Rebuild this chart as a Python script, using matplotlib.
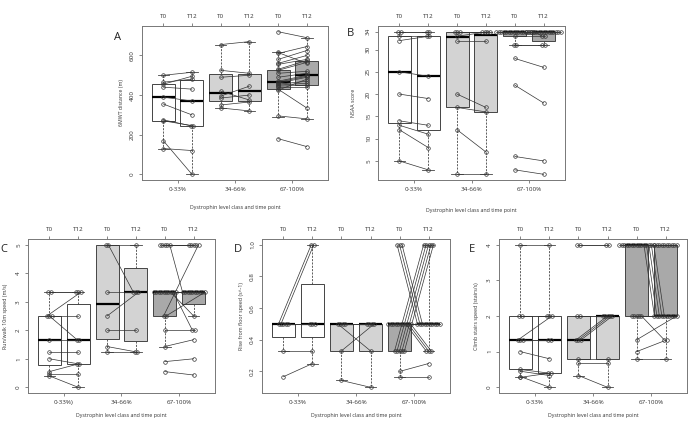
import numpy as np
import matplotlib
matplotlib.use("Agg")
import matplotlib.pyplot as plt

plt.rcParams['font.family'] = ['Open Sans', 'DejaVu Sans']

groups = ["0-33%", "34-66%", "67-100%"]
groups_c = ["0-33%)", "34-66%", "67-100%"]
time_labels = ["T0", "T12", "T0", "T12", "T0", "T12"]
xlabel = "Dystrophin level class and time point"
box_colors = ["white", "#d3d3d3", "#a9a9a9"]

# ---------------- Panel A: 6MWT distance ----------------
A_t0 = [[500, 465, 455, 440, 390, 355, 275, 270, 170, 130],
        [655, 525, 490, 420, 395, 385, 350, 335],
        [720, 615, 610, 580, 560, 555, 530, 525, 510, 490, 470, 465, 460, 455, 450, 445, 440, 430, 425, 295, 180]]
A_t12 = [[515, 480, 495, 430, 370, 300, 245, 245, 0, 120],
         [670, 510, 500, 375, 445, 400, 365, 320],
         [690, 560, 645, 625, 600, 580, 575, 565, 520, 510, 500, 495, 490, 470, 460, 450, 440, 335, 480, 280, 140]]
# whisker low, q1, median, q3, whisker high for boxes G1T0, G1T12, G2T0, ...
A_box = [[130, 270, 390, 455, 500], [0, 245, 370, 475, 515],
         [335, 370, 410, 505, 655], [320, 370, 420, 505, 670],
         [290, 430, 465, 525, 615], [280, 450, 500, 570, 690]]

# ---------------- Panel B: NSAA score ----------------
B_t0 = [[34, 34, 33, 32, 25, 20, 14, 13, 12, 5],
        [34, 34, 34, 33, 32, 20, 17, 12, 2],
        [34] * 16 + [33, 31, 31, 28, 22, 6, 3]]
B_t12 = [[34, 34, 33, 33, 24, 19, 13, 11, 8, 3],
         [34, 34, 34, 34, 32, 17, 16, 7, 2],
         [34] * 15 + [33, 33, 31, 31, 26, 18, 5, 2]]
B_box = [[5, 13.5, 25, 33, 34], [3, 12, 24, 33, 34],
         [2, 17, 32.7, 34, 34], [2, 16, 33.3, 33.5, 34],
         [31, 33, 34, 34, 34], [31, 32, 34, 34, 34]]

# ---------------- Panel C: Run/walk 10m speed ----------------
C_t0 = [[3.33, 3.33, 2.5, 2.5, 2.5, 1.67, 1.25, 1.0, 0.55, 0.45, 0.4],
        [5, 5, 3.33, 2.5, 2.0, 1.43, 1.25],
        [5, 5, 5, 5, 5] + [3.33] * 10 + [2.5, 2.5, 2.0, 1.43, 0.9, 0.55]]
C_t12 = [[3.33, 3.33, 3.33, 1.67, 2.5, 1.67, 1.25, 0.83, 0.83, 0.45, 0.0],
         [5, 3.33, 3.33, 3.33, 2.0, 1.25, 1.25],
         [5, 5, 5, 5, 3.33, 3.33, 3.33, 3.33, 3.33, 3.33, 3.33, 3.33, 2.5, 2.0, 3.33, 5, 3.33, 2.0, 1.67, 1.0, 0.43]]
C_box = [[0.4, 0.77, 1.67, 2.5, 3.33], [0.0, 0.83, 1.67, 2.92, 3.33],
         [1.25, 1.71, 2.92, 5, 5], [1.25, 1.62, 3.33, 4.17, 5],
         [1.43, 2.5, 3.33, 3.33, 3.33], [2.5, 2.92, 3.33, 3.33, 3.33]]

# ---------------- Panel D: Rise from floor speed ----------------
D_t0 = [[0.5, 0.5, 0.5, 0.5, 0.5, 0.33, 0.167],
        [0.5, 0.5, 0.5, 0.5, 0.33, 0.143],
        [1, 1, 1, 0.33, 0.33, 0.33, 0.33, 0.33] + [0.5] * 10 + [0.2, 0.167]]
D_t12 = [[1.0, 1.0, 0.5, 0.5, 0.5, 0.33, 0.25],
         [0.33, 0.5, 0.5, 0.5, 0.5, 0.1],
         [0.5, 0.5, 0.5, 1, 1, 1, 1, 1] + [0.5] * 7 + [0.33, 0.33, 0.33, 0.25, 0.167]]
D_box = [[0.33, 0.415, 0.5, 0.5, 0.5], [0.25, 0.415, 0.5, 0.75, 1.0],
         [0.143, 0.33, 0.5, 0.5, 0.5], [0.1, 0.33, 0.5, 0.5, 0.5],
         [0.167, 0.33, 0.5, 0.5, 0.5], [0.33, 0.5, 0.5, 0.5, 1.0]]

# ---------------- Panel E: Climb stairs speed ----------------
E_t0 = [[4, 2, 2, 1.33, 1.33, 1.33, 1.0, 0.5, 0.45, 0.3, 0.28],
        [4, 4, 2, 2, 1.33, 1.33, 1.33, 0.8, 0.67, 0.33],
        [4] * 15 + [2] * 5 + [1.33, 1.0, 0.8]]
E_t12 = [[4, 2, 2, 2, 1.33, 1.33, 0.8, 0.4, 0.33, 0.0, 0.4],
         [4, 4, 2, 2, 2, 2, 2, 0.8, 0.67, 0.0],
         [4] * 10 + [2] * 5 + [2, 2, 2, 2, 1.33] + [2, 1.33, 0.8]]
E_box = [[0.28, 0.5, 1.33, 2, 4], [0.0, 0.4, 1.33, 2, 4],
         [0.33, 0.8, 1.33, 2, 2], [0.0, 0.8, 2, 2, 2],
         [0.8, 2, 4, 4, 4], [0.8, 2, 2, 4, 4]]

W, H = 700, 426
fig = plt.figure(figsize=(W / 100, H / 100), dpi=100)

EDGE = "#444444"
STACK = 0.085


def stack_positions(vals, center):
    vals = np.asarray(vals, dtype=float)
    pos = np.zeros(len(vals))
    for v in np.unique(vals):
        idx = np.where(vals == v)[0]
        k = len(idx)
        pos[idx] = center + (np.arange(k) - (k - 1) / 2) * STACK
    return pos


def panel(rect_px, t0, t12, boxes, ylim, yticks, yticklabels, ylabel, letter,
          letter_px, ylabel_x, xlab_y, glabels):
    x0, y0, x1, y1 = rect_px
    ax = fig.add_axes([x0 / W, 1 - y1 / H, (x1 - x0) / W, (y1 - y0) / H])
    stats = []
    for b in boxes:
        stats.append(dict(whislo=b[0], q1=b[1], med=b[2], q3=b[3], whishi=b[4], fliers=[]))
    bp = ax.bxp(stats, positions=[1, 2, 3, 4, 5, 6], widths=0.8, patch_artist=True,
                showfliers=False, capwidths=0.4,
                boxprops=dict(edgecolor=EDGE, linewidth=0.7),
                medianprops=dict(color="black", linewidth=1.6, solid_capstyle="butt"),
                whiskerprops=dict(color=EDGE, linewidth=0.6, linestyle=(0, (2.5, 1.5))),
                capprops=dict(color=EDGE, linewidth=0.6), zorder=1)
    for i, p in enumerate(bp["boxes"]):
        p.set_facecolor(box_colors[i // 2])
    for g in range(3):
        xa = stack_positions(t0[g], 2 * g + 1)
        xb = stack_positions(t12[g], 2 * g + 2)
        for j in range(len(t0[g])):
            ax.plot([xa[j], xb[j]], [t0[g][j], t12[g][j]], color="#333333", lw=0.5, zorder=2)
        ax.plot(xa, t0[g], "o", ms=2.6, mfc="none", mec="#333333", mew=0.5, zorder=3)
        ax.plot(xb, t12[g], "o", ms=2.6, mfc="none", mec="#333333", mew=0.5, zorder=3)
    ax.set_xlim(0.26, 6.74)
    ax.set_ylim(*ylim)
    ax.set_yticks(yticks)
    ax.set_yticklabels(yticklabels, rotation=90, va="center", fontsize=4.5, color="#333333")
    ax.set_xticks([1.5, 3.5, 5.5])
    ax.set_xticklabels(glabels, fontsize=4.5, color="#333333")
    ax.tick_params(axis="both", length=2.5, width=0.5, color="#555555", pad=2.5)
    sec = ax.secondary_xaxis("top")
    sec.set_xticks([1, 2, 3, 4, 5, 6])
    sec.set_xticklabels(time_labels, fontsize=4.5, color="#333333")
    sec.tick_params(length=2.5, width=0.5, color="#555555", pad=2.5)
    sec.spines["top"].set_visible(False)
    for s in ax.spines.values():
        s.set_color("#777777")
        s.set_linewidth(0.7)
    fig.text(ylabel_x / W, 1 - ((y0 + y1) / 2) / H, ylabel, rotation=90, ha="center",
             va="center", fontsize=3.8, color="#333333")
    fig.text(((x0 + x1) / 2) / W, 1 - xlab_y / H, xlabel, ha="center", va="center",
             fontsize=3.8, color="#333333")
    fig.text(letter_px[0] / W, 1 - letter_px[1] / H, letter, ha="center", va="center",
             fontsize=8, color="#222222")
    return ax


panel((142, 26, 328, 180), A_t0, A_t12, A_box, (-28.8, 748.8), [0, 200, 400, 600],
      ["0", "200", "400", "600"], "6MWT distance (m)", "A", (117, 37), 121, 207, groups)
panel((378, 26, 565, 180), B_t0, B_t12, B_box, (0.72, 35.28), [5, 10, 15, 20, 25, 30, 34],
      ["5", "10", "15", "20", "25", "30", "34"], "NSAA score", "B", (350, 34), 353, 211, groups)
panel((28, 239, 215, 393), C_t0, C_t12, C_box, (-0.2, 5.2), [0, 1, 2, 3, 4, 5],
      ["0", "1", "2", "3", "4", "5"], "Run/walk 10m speed (m/s)", "C", (4, 249), 6, 416, groups_c)
panel((262, 239, 450, 393), D_t0, D_t12, D_box, (0.064, 1.036), [0.2, 0.4, 0.6, 0.8, 1.0],
      ["0.2", "0.4", "0.6", "0.8", "1.0"], "Rise from floor speed (s^-1)", "D", (238, 249), 242, 416, groups)
panel((499, 239, 687, 393), E_t0, E_t12, E_box, (-0.16, 4.16), [0, 1, 2, 3, 4],
      ["0", "1", "2", "3", "4"], "Climb stairs speed (stairs/s)", "E", (472, 250), 477, 416, groups)

fig.savefig("out.png", dpi=100, facecolor="white")
